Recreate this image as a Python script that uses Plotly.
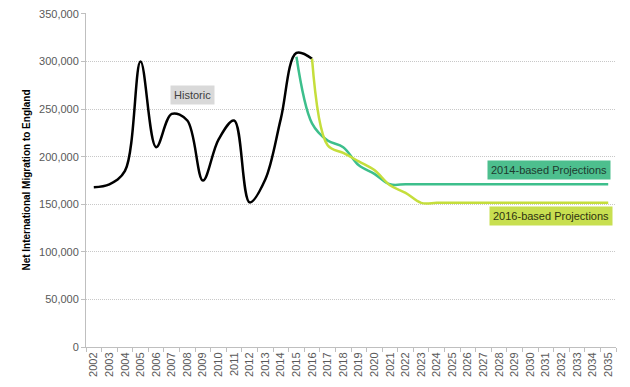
import plotly.graph_objects as go

years = [str(y) for y in range(2002, 2036)]

hist_years = years[0:15]  # 2002-2016
historic = [168000, 171000, 185000, 300000, 210000, 245000, 238000, 175000,
            218000, 238000, 152000, 176000, 240000, 309000, 303000]

p14_years = years[13:]  # 2015-2035
proj_2014 = [305000, 235000, 217000, 210000, 191000, 182000, 171000,
             171000, 171000, 171000, 171000, 171000, 171000, 171000,
             171000, 171000, 171000, 171000, 171000, 171000, 171000]

p16_years = years[14:]  # 2016-2035
proj_2016 = [303000, 212000, 204000, 195000, 186000, 170000, 162000, 151500,
             151500, 151500, 151500, 151500, 151500, 151500, 151500, 151500,
             151500, 151500, 151500, 151500]

GREEN = "#3dbf8c"
YELLOW = "#c5de3c"
FONT = "Liberation Sans"

fig = go.Figure()
fig.add_trace(go.Scatter(x=hist_years, y=historic, mode="lines",
                         line=dict(color="#000000", width=2.5, shape="spline"),
                         name="Historic", showlegend=False))
fig.add_trace(go.Scatter(x=p14_years, y=proj_2014, mode="lines",
                         line=dict(color=GREEN, width=2.5, shape="spline"),
                         name="2014-based Projections", showlegend=False))
fig.add_trace(go.Scatter(x=p16_years, y=proj_2016, mode="lines",
                         line=dict(color=YELLOW, width=2.5, shape="spline"),
                         name="2016-based Projections", showlegend=False))

fig.update_layout(
    width=630, height=387,
    margin=dict(l=86, r=14, t=13, b=40),
    paper_bgcolor="white", plot_bgcolor="white",
    font=dict(family=FONT, size=11, color="#595959"),
    xaxis=dict(type="category", categoryorder="array", categoryarray=years,
               range=[-0.5, 33.5], tickangle=-90, automargin=False,
               showline=True, linecolor="#bfbfbf", linewidth=1,
               ticks="outside", tickson="boundaries", ticklen=4, tickcolor="#bfbfbf",
               showgrid=False, tickfont=dict(size=11, color="#595959")),
    yaxis=dict(range=[0, 351000], tick0=0, dtick=50000, tickformat=",", automargin=False,
               ticklabeloverflow="allow",
               showgrid=True, gridcolor="#c8c8c8", griddash="1px,1px", gridwidth=1,
               showline=True, linecolor="#bfbfbf", linewidth=1,
               ticks="outside", ticklen=4, tickcolor="#bfbfbf", zeroline=False,
               tickfont=dict(size=11, color="#595959"),
               title=dict(text="<b>Net International Migration to England</b>",
                          font=dict(size=10, color="#000000"),
                          standoff=6)),
    annotations=[
        dict(x=6.35, y=265000, xref="x", yref="y", text="Historic", showarrow=False,
             bgcolor="#d9d9d9", borderpad=3, font=dict(size=11, color="#404040")),
        dict(x=29.2, y=185500, xref="x", yref="y", text="2014-based Projections",
             showarrow=False, bgcolor="#4dbf8e", borderpad=3,
             font=dict(size=11, color="#1e3a2e")),
        dict(x=29.3, y=137700, xref="x", yref="y", text="2016-based Projections",
             showarrow=False, bgcolor="#c8df50", borderpad=3,
             font=dict(size=11, color="#2e3310")),
    ],
)

fig.write_html("out.html", config={"displayModeBar": False},
               post_script="document.body.style.margin='0';")
